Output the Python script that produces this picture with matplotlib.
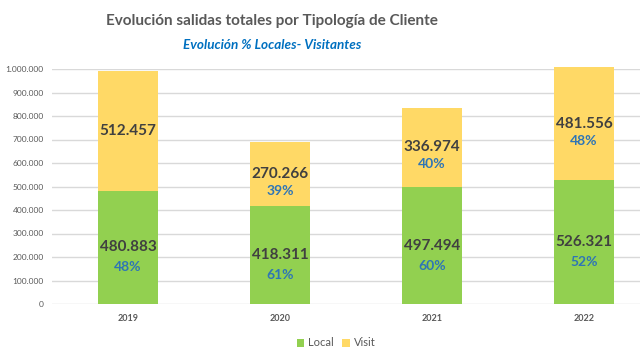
import matplotlib.pyplot as plt
from matplotlib.ticker import FuncFormatter

# datos
years = ['2019', '2020', '2021', '2022']
local = [480883, 418311, 497494, 526321]
visit = [512457, 270266, 336974, 481556]
local_pct = ['48%', '61%', '60%', '52%']
visit_pct = ['', '39%', '40%', '48%']

plt.rcParams['font.family'] = ['Lato', 'DejaVu Sans']

def miles(v, pos=None):
    return '{:,.0f}'.format(v).replace(',', '.')

fig = plt.figure(figsize=(6.4, 3.6), dpi=100)
ax = fig.add_axes([52/640, 1-304/360, 588/640, 235/360])

x = range(len(years))
ax.bar(x, local, width=0.4, color='#92D050', label='Local', zorder=3, clip_on=False)
ax.bar(x, visit, width=0.4, bottom=local, color='#FFD966', label='Visit', zorder=3, clip_on=False)

for i in x:
    # local
    yc = local[i] / 2
    ax.text(i, yc, miles(local[i]), ha='center', va='center', fontsize=11,
            fontweight='bold', color='#404040', zorder=4)
    ax.text(i, yc - 85000, local_pct[i], ha='center', va='center', fontsize=10,
            fontweight='bold', color='#2E75B6', zorder=4)
    # visit
    yc = local[i] + visit[i] / 2
    ax.text(i, yc, miles(visit[i]), ha='center', va='center', fontsize=11,
            fontweight='bold', color='#404040', zorder=4)
    if visit_pct[i]:
        ax.text(i, yc - 72000, visit_pct[i], ha='center', va='center', fontsize=10,
                fontweight='bold', color='#2E75B6', zorder=4)

ax.set_ylim(0, 1000000)
ax.set_xlim(-0.5, -0.5 + 588/152)
ax.set_yticks(range(0, 1000001, 100000))
ax.yaxis.set_major_formatter(FuncFormatter(miles))
ax.set_xticks(list(x))
ax.set_xticklabels(years, fontweight='bold')
ax.tick_params(axis='y', labelsize=6, colors='#595959', length=0, pad=6)
ax.tick_params(axis='x', labelsize=6.5, colors='#595959', length=0, pad=7)
ax.grid(axis='y', color='#D9D9D9', linewidth=1, zorder=0)
for s in ax.spines.values():
    s.set_visible(False)

fig.text(272/640, 1-21/360, 'Evolución salidas totales por Tipología de Cliente',
         ha='center', va='center', fontsize=11, fontweight='bold', color='#595959')
fig.text(272/640, 1-45/360, 'Evolución % Locales- Visitantes', ha='center', va='center',
         fontsize=9.7, fontweight='bold', style='italic', color='#0070C0')

fig.legend(loc='center', bbox_to_anchor=(336/640, 1-343/360), ncol=2, frameon=False,
           fontsize=8, labelcolor='#595959', handlelength=0.7, handleheight=0.7,
           handletextpad=0.3, columnspacing=0.8)

fig.savefig('out.png', dpi=100)
